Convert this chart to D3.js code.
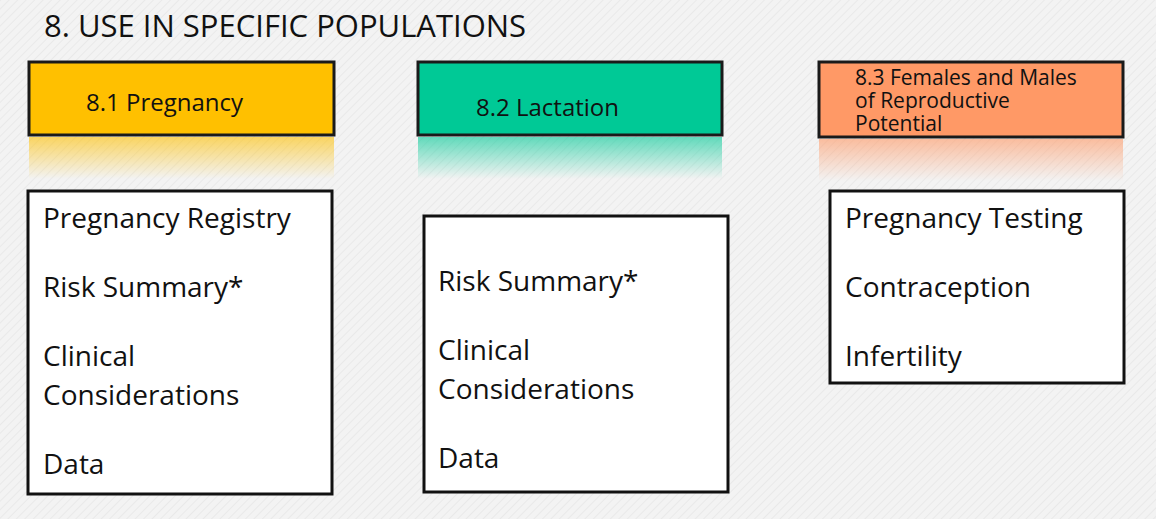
<!DOCTYPE html>
<html><head><meta charset="utf-8">
<script src="https://d3js.org/d3.v7.min.js"></script>
<style>body{margin:0;background:#f1f1f1}</style></head>
<body><svg id="c" width="1156" height="519"></svg>
<script>
const title = "8. USE IN SPECIFIC POPULATIONS";
const headers = [["8.1 Pregnancy"],["8.2 Lactation"],["8.3 Females and Males","of Reproductive","Potential"]];
const headerColors = ["#FFC000","#00C996","#FF9966"];
const items = [
  [["Pregnancy Registry"],["Risk Summary*"],["Clinical","Considerations"],["Data"]],
  [[""],["Risk Summary*"],["Clinical","Considerations"],["Data"]],
  [["Pregnancy Testing"],["Contraception"],["Infertility"]]
];
// layout
const hdrBox = [[29,62,305,73],[418,62,304,73],[819,62,304,75]];
const hdrText = [[86,111,24,0],[476,116,24,0],[855,85,21,23]];
const itemBox = [[28,191,304,303],[424,216,304,276],[830,191,294,192]];
const itemStart = [[43,228],[438,222],[845,228]];

const svg = d3.select("#c");
const defs = svg.append("defs");
const pat = defs.append("pattern").attr("id","bg").attr("width",6).attr("height",6)
  .attr("patternUnits","userSpaceOnUse").attr("patternTransform","rotate(45)");
pat.append("rect").attr("width",6).attr("height",6).attr("fill","#f3f3f3");
pat.append("rect").attr("width",1).attr("height",6).attr("fill","#e9e9e9");
svg.append("rect").attr("width",1156).attr("height",519).attr("fill","url(#bg)");

svg.append("text").attr("x",44).attr("y",37).attr("font-family","Open Sans, Liberation Sans, sans-serif")
  .attr("font-size",31).attr("fill","#111").text(title);

headerColors.forEach((c,i)=>{
  const g = defs.append("linearGradient").attr("id","r"+i).attr("x1",0).attr("y1",0).attr("x2",0).attr("y2",1);
  g.append("stop").attr("offset",0).attr("stop-color",c).attr("stop-opacity",0.6);
  g.append("stop").attr("offset",1).attr("stop-color",c).attr("stop-opacity",0);
});

const font = "Open Sans, Liberation Sans, sans-serif";
const hg = svg.selectAll("g.h").data(headers).join("g");
hg.append("rect").attr("x",(d,i)=>hdrBox[i][0]).attr("y",(d,i)=>hdrBox[i][1]+hdrBox[i][3]+2)
  .attr("width",(d,i)=>hdrBox[i][2]).attr("height",42).attr("fill",(d,i)=>`url(#r${i})`);
hg.append("rect").attr("x",(d,i)=>hdrBox[i][0]).attr("y",(d,i)=>hdrBox[i][1])
  .attr("width",(d,i)=>hdrBox[i][2]).attr("height",(d,i)=>hdrBox[i][3])
  .attr("fill",(d,i)=>headerColors[i]).attr("stroke","#1a1a1a").attr("stroke-width",3);
hg.each(function(d,i){
  d3.select(this).selectAll("text").data(d).join("text")
    .attr("x",hdrText[i][0]).attr("y",(t,j)=>hdrText[i][1]+j*hdrText[i][3])
    .attr("font-family",font).attr("font-size",hdrText[i][2]).attr("fill","#111").text(t=>t);
});

const ig = svg.selectAll("g.i").data(items).join("g");
ig.append("rect").attr("x",(d,i)=>itemBox[i][0]).attr("y",(d,i)=>itemBox[i][1])
  .attr("width",(d,i)=>itemBox[i][2]).attr("height",(d,i)=>itemBox[i][3])
  .attr("fill","#fff").attr("stroke","#111").attr("stroke-width",3);
ig.each(function(d,i){
  const lines=[]; let y=itemStart[i][1];
  d.forEach(it=>{ it.forEach((t,j)=>{ lines.push({t,y}); y+=39; }); y+=30; });
  d3.select(this).selectAll("text").data(lines).join("text")
    .attr("x",itemStart[i][0]).attr("y",l=>l.y).attr("font-family",font)
    .attr("font-size",28).attr("fill","#111").text(l=>l.t);
});
</script></body></html>
